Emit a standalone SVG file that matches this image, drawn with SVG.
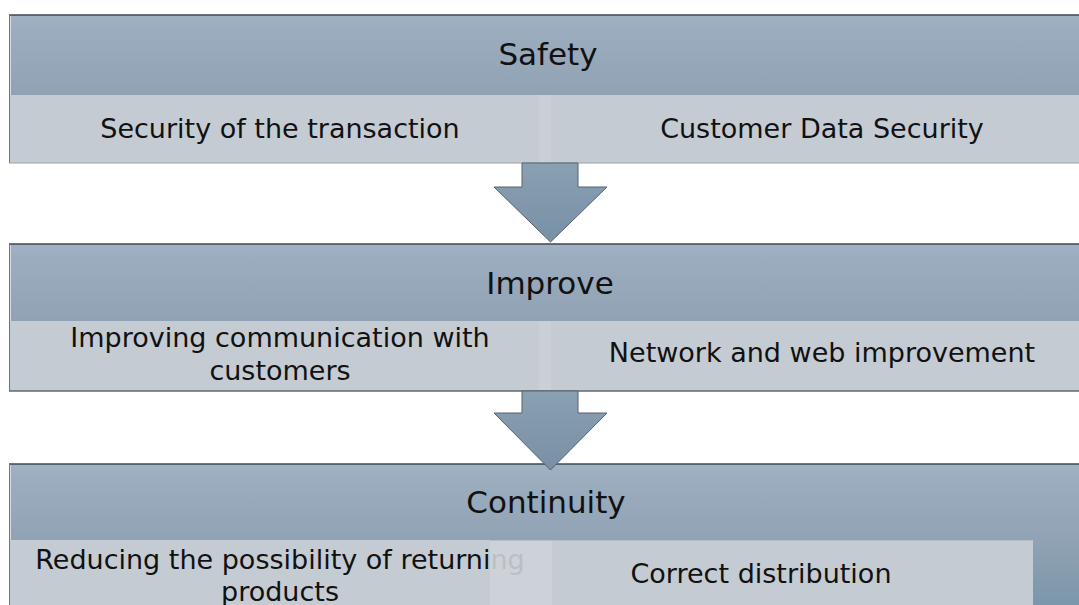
<svg xmlns="http://www.w3.org/2000/svg" width="1079" height="605" viewBox="0 0 1079 605">
  <defs>
    <linearGradient id="hdr" x1="0" y1="0" x2="0" y2="1">
      <stop offset="0" stop-color="#a0b3c5"/>
      <stop offset="0.15" stop-color="#9badbf"/>
      <stop offset="1" stop-color="#90a2b3"/>
    </linearGradient>
    <linearGradient id="hdr3" x1="0" y1="0" x2="0" y2="1">
      <stop offset="0" stop-color="#a0b3c5"/>
      <stop offset="0.1" stop-color="#9badbf"/>
      <stop offset="0.55" stop-color="#90a2b3"/>
      <stop offset="1" stop-color="#7c96ab"/>
    </linearGradient>
    <linearGradient id="arr" x1="0" y1="0" x2="0" y2="1">
      <stop offset="0" stop-color="#8aa0b3"/>
      <stop offset="1" stop-color="#7890a5"/>
    </linearGradient>
    <style>
      .hd { font-family: "DejaVu Sans", "Liberation Sans", sans-serif; font-size: 31px; fill: #111; text-anchor: middle; }
      .sb { font-family: "DejaVu Sans", "Liberation Sans", sans-serif; font-size: 27px; fill: #111; text-anchor: middle; }
      .cell { fill: #c5cbd3; }
      .ovl { fill: #cbd0d7; }
      .topline { stroke: #3e4751; stroke-width: 1.5; }
      .leftline { stroke: #6d7680; stroke-width: 1; }
      .arrow { fill: url(#arr); stroke: #56626e; stroke-width: 1; }
    </style>
  </defs>

  <rect width="1079" height="605" fill="#ffffff"/>

  <g id="safety">
    <rect x="9" y="15" width="1070" height="80" fill="url(#hdr)"/>
    <rect class="cell" x="9" y="95" width="1070" height="68"/>
    <rect class="ovl" x="539" y="95" width="12" height="68"/>
    <line class="topline" x1="9" y1="15" x2="1079" y2="15"/>
    <line class="leftline" x1="9.5" y1="15" x2="9.5" y2="163"/>
    <line x1="10.5" y1="16" x2="10.5" y2="95" stroke="#d3dce5" stroke-width="1"/>
    <line x1="9" y1="163" x2="1079" y2="163" stroke="#9aa2aa" stroke-width="1"/>
    <text class="hd" x="548" y="65">Safety</text>
    <text class="sb" x="280" y="138">Security of the transaction</text>
    <text class="sb" x="822" y="138">Customer Data Security</text>
  </g>

  <g id="improve">
    <rect x="9" y="244" width="1070" height="77" fill="url(#hdr)"/>
    <rect class="cell" x="9" y="321" width="1070" height="70"/>
    <rect class="ovl" x="539" y="321" width="12" height="70"/>
    <line class="topline" x1="9" y1="244" x2="1079" y2="244"/>
    <line class="leftline" x1="9.5" y1="244" x2="9.5" y2="391"/>
    <line x1="10.5" y1="245" x2="10.5" y2="321" stroke="#d3dce5" stroke-width="1"/>
    <line x1="9" y1="391" x2="1079" y2="391" stroke="#5f6872" stroke-width="1.5"/>
    <text class="hd" x="550" y="294">Improve</text>
    <text class="sb" x="280" y="347">Improving communication with</text>
    <text class="sb" x="280" y="380">customers</text>
    <text class="sb" x="822" y="362">Network and web improvement</text>
  </g>

  <g id="continuity">
    <rect x="9" y="464" width="1070" height="141" fill="url(#hdr3)"/>
    <rect class="cell" x="9" y="540" width="543" height="65"/>
    <line class="topline" x1="9" y1="464" x2="1079" y2="464"/>
    <line class="leftline" x1="9.5" y1="464" x2="9.5" y2="605"/>
    <line x1="10.5" y1="465" x2="10.5" y2="540" stroke="#d3dce5" stroke-width="1"/>
    <text class="hd" x="546" y="513">Continuity</text>
    <text class="sb" x="280" y="569">Reducing the possibility of returning</text>
    <text class="sb" x="280" y="601">products</text>
    <rect x="490" y="540" width="62" height="65" fill="#cdd2d8" opacity="0.9"/>
    <rect class="cell" x="552" y="540" width="481" height="65"/>
    <line x1="490" y1="540.5" x2="1033" y2="540.5" stroke="#b4bec8" stroke-width="1"/>
    <text class="sb" x="761" y="583">Correct distribution</text>
  </g>

  <g id="connectors">
    <polygon class="arrow" points="522,163 578,163 578,187 607,187 550.5,242 494,187 522,187"/>
    <polygon class="arrow" points="522,391 578,391 578,413 607,413 550.5,470 494,413 522,413"/>
  </g>
</svg>
